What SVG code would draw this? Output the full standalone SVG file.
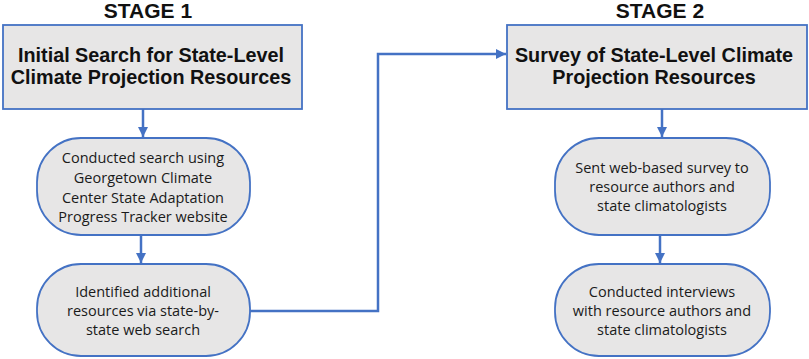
<svg xmlns="http://www.w3.org/2000/svg" width="809" height="359" viewBox="0 0 809 359">
<style>
.title{font-family:"Liberation Sans",Arial,sans-serif;font-weight:bold;font-size:21px;fill:#111;text-anchor:middle}
.hdr{font-family:"Liberation Sans",Arial,sans-serif;font-weight:bold;font-size:19.8px;fill:#111;text-anchor:middle}
.txt{font-family:"Open Sans","Liberation Sans",sans-serif;font-size:14.5px;fill:#1a1a1a;text-anchor:middle}
.box{fill:#e7e6e6;stroke:#4472c4;stroke-width:1.8}
.con{fill:none;stroke:#4472c4;stroke-width:2.5}
</style>
<defs>
<marker id="ah" viewBox="0 0 10 10" refX="10" refY="5" markerWidth="4" markerHeight="4" orient="auto" markerUnits="strokeWidth">
<path d="M0,0 L10,5 L0,10 Z" fill="#4472c4"/>
</marker>
</defs>
<text class="title" x="148" y="18">STAGE 1</text>
<text class="title" x="660" y="18">STAGE 2</text>
<g id="s1">
<rect class="box" x="3" y="25" width="299" height="84"/>
<text class="hdr" x="151" y="62">Initial Search for State-Level</text>
<text class="hdr" x="151" y="84">Climate Projection Resources</text>
</g>
<g id="n1">
<rect class="box" x="37" y="138" width="213" height="97" rx="44" ry="44"/>
<text class="txt" x="143" y="163">Conducted search using</text>
<text class="txt" x="143" y="183">Georgetown Climate</text>
<text class="txt" x="143" y="203">Center State Adaptation</text>
<text class="txt" x="143" y="222">Progress Tracker website</text>
</g>
<g id="n2">
<rect class="box" x="37" y="264" width="213" height="92" rx="44" ry="44"/>
<text class="txt" x="143" y="297">Identified additional</text>
<text class="txt" x="143" y="316">resources via state-by-</text>
<text class="txt" x="143" y="335">state web search</text>
</g>
<g id="s2">
<rect class="box" x="507" y="25" width="300" height="84"/>
<text class="hdr" x="654" y="62">Survey of State-Level Climate</text>
<text class="hdr" x="654" y="84">Projection Resources</text>
</g>
<g id="n3">
<rect class="box" x="555" y="138" width="215" height="97" rx="44" ry="44"/>
<text class="txt" x="662" y="173">Sent web-based survey to</text>
<text class="txt" x="662" y="192">resource authors and</text>
<text class="txt" x="662" y="211">state climatologists</text>
</g>
<g id="n4">
<rect class="box" x="555" y="264" width="215" height="92" rx="44" ry="44"/>
<text class="txt" x="662" y="297">Conducted interviews</text>
<text class="txt" x="662" y="316">with resource authors and</text>
<text class="txt" x="662" y="335">state climatologists</text>
</g>
<g id="connectors">
<path class="con" d="M143,109 V137" marker-end="url(#ah)"/>
<path class="con" d="M141,235 V263" marker-end="url(#ah)"/>
<path class="con" d="M662,109 V137" marker-end="url(#ah)"/>
<path class="con" d="M660,235 V263" marker-end="url(#ah)"/>
<path class="con" d="M250,311 H378 V54 H506" marker-end="url(#ah)"/>
</g>
</svg>
